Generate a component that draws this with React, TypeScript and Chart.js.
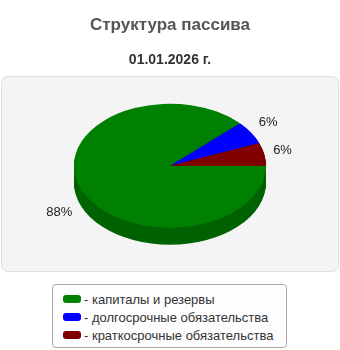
import React, { useEffect, useRef } from "react";
import { Chart, registerables } from "chart.js";

Chart.register(...registerables);

const categories = ["капиталы и резервы", "долгосрочные обязательства", "краткосрочные обязательства"];
const values = [88, 6, 6];
const percentLabels = ["88%", "6%", "6%"];
const colors = ["#008000", "#0000ff", "#800000"];
const sideColors = ["#006200", "#0000b0", "#5c0000"];
const titleText = "Структура пассива";
const subtitleText = "01.01.2026 г.";

const FONT = "'Liberation Sans', Arial, sans-serif";
const CX = 170;
const CY = 165.7;
const RX = 96;
const RY = 62;
const DEPTH = 17;

function applyTransform(ctx: CanvasRenderingContext2D, arc: any, dy: number) {
  const r = arc.outerRadius || 1;
  ctx.translate(CX, CY + dy);
  ctx.scale(RX / r, RY / r);
  ctx.translate(-arc.x, -arc.y);
}

const pie3d = {
  id: "pie3d",
  beforeDraw(chart: any) {
    const ctx = chart.ctx as CanvasRenderingContext2D;
    ctx.save();
    ctx.beginPath();
    (ctx as any).roundRect(1.5, 76.5, 337, 195, 6);
    ctx.fillStyle = "#f4f4f4";
    ctx.fill();
    ctx.strokeStyle = "#e0e0e0";
    ctx.lineWidth = 1;
    ctx.stroke();
    ctx.restore();
  },
  beforeDatasetsDraw(chart: any) {
    const ctx = chart.ctx as CanvasRenderingContext2D;
    const arcs = chart.getDatasetMeta(0).data;
    if (!arcs.length) return;
    for (let d = DEPTH; d >= 1; d--) {
      arcs.forEach((arc: any, i: number) => {
        ctx.save();
        applyTransform(ctx, arc, d);
        ctx.beginPath();
        ctx.moveTo(arc.x, arc.y);
        ctx.arc(arc.x, arc.y, arc.outerRadius, arc.startAngle, arc.endAngle);
        ctx.closePath();
        ctx.fillStyle = sideColors[i];
        ctx.fill();
        ctx.restore();
      });
    }
    ctx.save();
    applyTransform(ctx, arcs[0], 0);
  },
  afterDatasetsDraw(chart: any) {
    const ctx = chart.ctx as CanvasRenderingContext2D;
    ctx.restore();
    const arcs = chart.getDatasetMeta(0).data;
    ctx.save();
    ctx.font = "13px " + FONT;
    ctx.fillStyle = "#222";
    ctx.textBaseline = "middle";
    arcs.forEach((arc: any, i: number) => {
      const mid = (arc.startAngle + arc.endAngle) / 2;
      const c = Math.cos(mid);
      const s = Math.sin(mid);
      const x = CX + c * (RX + 9);
      const y = CY + s * (RY + 18) + (s > 0 ? DEPTH : 0);
      ctx.textAlign = c >= 0 ? "left" : "right";
      ctx.fillText(percentLabels[i], x, y);
    });
    ctx.restore();
  },
};

export default function App() {
  const ref = useRef<HTMLCanvasElement | null>(null);
  useEffect(() => {
    if (!ref.current) return;
    const chart = new Chart(ref.current, {
      type: "pie",
      data: {
        labels: categories,
        datasets: [
          {
            data: values,
            backgroundColor: colors,
            borderWidth: 0,
            clip: false as any,
          },
        ],
      },
      options: {
        responsive: false,
        animation: false,
        events: [],
        rotation: 90,
        layout: { padding: { left: 74, right: 74, top: 0, bottom: 4 } },
        plugins: {
          legend: { display: false },
          tooltip: { enabled: false },
          title: {
            display: true,
            text: titleText,
            color: "#555",
            font: { size: 17, weight: "bold", family: FONT },
            padding: { top: 15, bottom: 8 },
          },
          subtitle: {
            display: true,
            text: subtitleText,
            color: "#333",
            font: { size: 14, weight: "bold", family: FONT },
            padding: { top: 8, bottom: 10 },
          },
        },
      },
      plugins: [pie3d],
    });
    return () => chart.destroy();
  }, []);

  return (
    <div style={{ position: "absolute", left: 0, top: 0, width: 340, height: 350, fontFamily: FONT }}>
      <canvas ref={ref} width={340} height={275} style={{ display: "block" }} />
      <div
        style={{
          position: "absolute",
          left: 52,
          top: 284,
          width: 235,
          height: 64,
          boxSizing: "border-box",
          border: "1px solid #aaa",
          borderRadius: 4,
          background: "#fdfdfd",
          padding: "5px 0 0 10px",
        }}
      >
        {categories.map((c, i) => (
          <div key={c} style={{ display: "flex", alignItems: "center", height: 18, fontSize: 13, color: "#333" }}>
            <span
              style={{
                display: "inline-block",
                width: 18,
                height: 8,
                borderRadius: 3,
                background: colors[i],
                marginRight: 3,
                flexShrink: 0,
              }}
            />
            <span style={{ whiteSpace: "nowrap" }}>{"- " + c}</span>
          </div>
        ))}
      </div>
    </div>
  );
}
